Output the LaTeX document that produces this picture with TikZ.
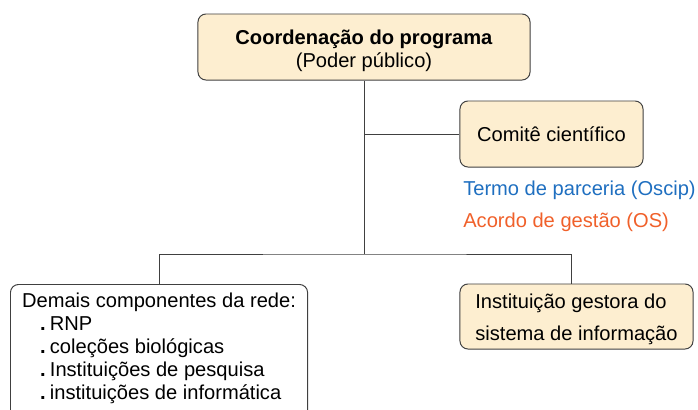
\documentclass[tikz,border=0pt]{standalone}
\usepackage{fontspec}
\setmainfont{Liberation Sans}
\usepackage{tikz}
\usetikzlibrary{calc}
\definecolor{creme}{RGB}{253,238,208}
\definecolor{linha}{RGB}{64,64,64}
\definecolor{azul}{RGB}{31,111,192}
\definecolor{laranja}{RGB}{240,96,42}
\tikzstyle{caixa} = [draw=linha, fill=creme, rounded corners=0.2cm, line width=0.7pt]
\tikzstyle{ligacao} = [draw=linha, line width=0.7pt]

\begin{document}
\begin{tikzpicture}[x=0.025cm, y=-0.025cm, every node/.style={font=\fontsize{14.3}{16.5}\selectfont, inner sep=0pt}]
        \clip (0,0) rectangle (698,409);

        \node[caixa, minimum width=8.3cm, minimum height=1.65cm, align=center] (A) at (364,47)
          {\rule{0pt}{16pt}\textbf{Coordenação do programa}\\(Poder público)};
        \node[caixa, minimum width=4.575cm, minimum height=1.65cm] (B) at (551.5,134) {Comitê científico};
        \node[caixa, fill=white, anchor=north west, minimum width=7.425cm,
          inner ysep=0.2cm, align=left] (C) at (10,284)
          {Demais componentes da rede:\\
           \hspace*{0.45cm}\textbf{.}\hspace{3pt}RNP\\
           \hspace*{0.45cm}\textbf{.}\hspace{3pt}coleções biológicas\\
           \hspace*{0.45cm}\textbf{.}\hspace{3pt}Instituições de pesquisa\\
           \hspace*{0.45cm}\textbf{.}\hspace{3pt}instituições de informática\\[0.3cm]};
        \node[caixa, minimum width=5.825cm, minimum height=1.625cm, align=left] (D) at (576.5,316.5)
          {\rule{0pt}{14pt}Instituição gestora do\\[6.4pt]sistema de informação};

        % Textos coloridos
        \node[anchor=west, text=azul] (T) at (463,190) {Termo de parceria (Oscip)};
        \node[anchor=west, text=laranja] (O) at (463,222) {Acordo de gestão (OS)};

        % Ligacoes
        \coordinate (J) at (A.south |- 0,254);
        \draw[ligacao] (A.south) -- (J);
        \draw[ligacao] (A.south |- B.west) -- (B.west);
        \draw[ligacao] (C.north) |- (J) -| (D.north -| 571,0);
      \end{tikzpicture}
\end{document}
